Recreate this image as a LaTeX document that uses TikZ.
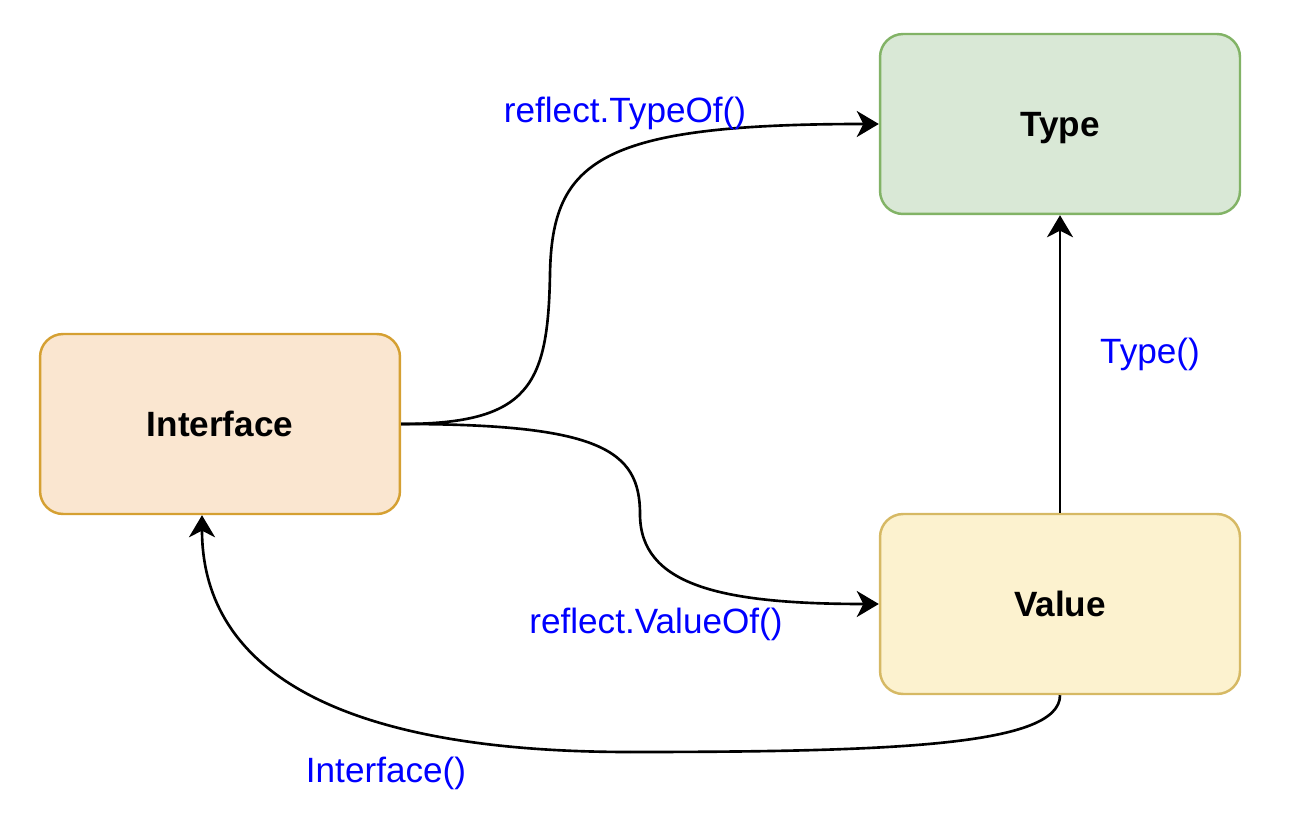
\documentclass[tikz,border=0pt]{standalone}
\usepackage{fontspec}
\setmainfont{Liberation Sans}
\usetikzlibrary{arrows.meta}
\definecolor{ifill}{RGB}{250,230,208}
\definecolor{idraw}{RGB}{213,160,50}
\definecolor{tfill}{RGB}{217,232,214}
\definecolor{tdraw}{RGB}{130,179,102}
\definecolor{vfill}{RGB}{252,242,207}
\definecolor{vdraw}{RGB}{214,185,100}
\definecolor{lblue}{RGB}{0,0,255}
\tikzset{
  box/.style={draw, line width=1.4pt, rounded corners=0.46cm, minimum width=7.2cm, minimum height=3.6cm, font=\fontsize{20}{24}\selectfont\bfseries, inner sep=0pt, text height=14.3pt, text depth=0pt},
  wire/.style={line width=1.5pt},
  conn/.style={wire, -{Stealth[length=0.44cm,width=0.52cm,inset=0.13cm]}},
  lbl/.style={text=lblue, font=\fontsize{20}{24}\selectfont, inner sep=0pt, text height=14.3pt, text depth=0pt}
}
\begin{document}
\begin{tikzpicture}[x=0.02cm,y=-0.02cm]
\useasboundingbox (0,0) rectangle (1298,830);
\node[box, fill=ifill, draw=idraw] (iface) at (220,424) {Interface};
\node[box, fill=tfill, draw=tdraw] (type) at (1060,124) {Type};
\node[box, fill=vfill, draw=vdraw] (value) at (1060,604) {Value};
\coordinate (m1) at (550,274);
\coordinate (m2) at (640,514);
\coordinate (m3) at (630,752);
\draw[wire] (iface.east) .. controls (530,424) and (548,385) .. (m1);
\draw[conn] (m1) .. controls (552,160) and (600,124) .. (type.west);
\draw[wire] (iface.east) .. controls (600,424) and (640,450) .. (m2);
\draw[conn] (m2) .. controls (640,585) and (720,604) .. (value.west);
\draw[wire] (value.south) .. controls (1060,745) and (900,752) .. (m3);
\draw[conn] (m3) .. controls (320,752) and (202,660) .. ([xshift=-18*0.02cm]iface.south);
\draw[conn] (value.north) -- (type.south);
\node[lbl] (l1) at (625,110) {reflect.TypeOf()};
\node[lbl] (l2) at (1150,351) {Type()};
\node[lbl] (l3) at (656,621) {reflect.ValueOf()};
\node[lbl] (l4) at (386,770) {Interface()};
\end{tikzpicture}
\end{document}
